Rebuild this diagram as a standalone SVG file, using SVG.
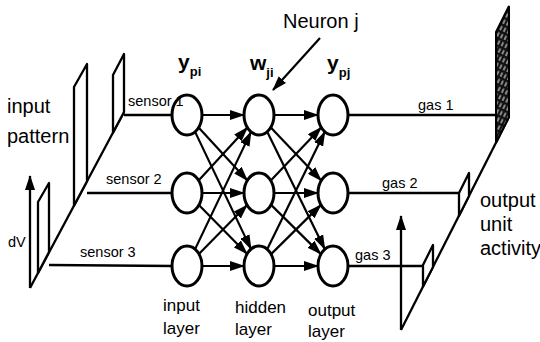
<svg xmlns="http://www.w3.org/2000/svg" width="540" height="342" viewBox="0 0 540 342">
<style>
text{font-family:"Liberation Sans",Arial,sans-serif;fill:#000}
.lbl{font-size:14.5px}
.big{font-size:20px}
.lay{font-size:17px}
.sym{font-size:21px;font-weight:bold}
.sub{font-size:13px;font-weight:bold}
.node{fill:#fff;stroke:#000;stroke-width:3}
.edge{stroke:#000;stroke-width:2.2;fill:none;marker-end:url(#ah)}
.ln{stroke:#000;stroke-width:2.3;fill:none}
.panel{stroke:#000;stroke-width:2.3;fill:#fff;stroke-linejoin:round}
</style>
<defs>
<marker id="ah" markerUnits="userSpaceOnUse" markerWidth="15" markerHeight="10" viewBox="0 0 15 10" refX="14" refY="5" orient="auto">
<path d="M0,0 L15,5 L0,10 z" fill="#000"/>
</marker>
<pattern id="hatch" patternUnits="userSpaceOnUse" width="4" height="7" patternTransform="rotate(25)">
<rect width="4" height="7" fill="#111"/>
<line x1="2" y1="0.5" x2="2" y2="5" stroke="#fff" stroke-width="1"/>
</pattern>
</defs>
<rect width="540" height="342" fill="#fff"/>

<!-- input pattern (left) -->
<g id="input-pattern">
<line class="ln" x1="30" y1="288" x2="124" y2="112"/>
<polygon class="panel" points="38,273 38,202 49,183 49,252"/>
<polygon class="panel" points="74,205.6 74,87 87,64 87,181.3"/>
<polygon class="panel" points="113,132.6 113,75 124,54 124,112"/>
<line class="ln" x1="30" y1="288" x2="30" y2="176" marker-end="url(#ah)"/>
<text class="big" x="7" y="113">input</text>
<text class="big" x="7" y="143">pattern</text>
<text class="lbl" x="8" y="247">dV</text>
</g>

<!-- output unit activity (right) -->
<g id="output-activity">
<line class="ln" x1="401" y1="330" x2="509" y2="117"/>
<polygon class="panel" points="423,286.6 423,265 433,245 433,267"/>
<polygon class="panel" points="459,215.7 459,193 469,173 469,196"/>
<polygon points="496,143 496,32 509,6 509,117" fill="url(#hatch)" stroke="#000" stroke-width="2"/>
<line class="ln" x1="401" y1="330" x2="401" y2="216" marker-end="url(#ah)"/>
<text class="big" x="480" y="207">output</text>
<text class="big" x="480" y="231">unit</text>
<text class="big" x="480" y="255">activity</text>
</g>

<!-- connectors -->
<g id="connectors">
<line class="ln" x1="124" y1="115" x2="173" y2="115"/>
<line class="ln" x1="87" y1="193" x2="173" y2="193"/>
<line class="ln" x1="49" y1="265" x2="173" y2="266"/>
<line class="ln" x1="348" y1="115" x2="496" y2="115"/>
<line class="ln" x1="348" y1="193" x2="459" y2="193"/>
<line class="ln" x1="348" y1="266" x2="423" y2="266"/>

<line class="edge" x1="202" y1="115" x2="244" y2="115"/>
<line class="edge" x1="198.6" y1="127.6" x2="247.4" y2="180.4"/>
<line class="edge" x1="195.1" y1="131.9" x2="251" y2="249.1"/>
<line class="edge" x1="198.6" y1="180.4" x2="247.4" y2="127.6"/>
<line class="edge" x1="202" y1="193" x2="244" y2="193"/>
<line class="edge" x1="198.9" y1="205.1" x2="247.1" y2="253.9"/>
<line class="edge" x1="195.1" y1="249.1" x2="251" y2="131.9"/>
<line class="edge" x1="198.9" y1="253.9" x2="247.1" y2="205.1"/>
<line class="edge" x1="202" y1="266" x2="244" y2="266"/>

<line class="edge" x1="274" y1="115" x2="318" y2="115"/>
<line class="edge" x1="270.8" y1="127.4" x2="321.2" y2="180.6"/>
<line class="edge" x1="267.2" y1="131.8" x2="324.8" y2="249.2"/>
<line class="edge" x1="270.8" y1="180.6" x2="321.2" y2="127.4"/>
<line class="edge" x1="274" y1="193" x2="318" y2="193"/>
<line class="edge" x1="271.1" y1="204.9" x2="320.9" y2="254.1"/>
<line class="edge" x1="267.2" y1="249.2" x2="324.8" y2="131.8"/>
<line class="edge" x1="271.1" y1="254.1" x2="320.9" y2="204.9"/>
<line class="edge" x1="274" y1="266" x2="318" y2="266"/>

<line class="edge" x1="320" y1="38" x2="273" y2="90"/>
</g>

<!-- nodes -->
<g id="input1"><ellipse class="node" cx="187" cy="115" rx="15" ry="20"/></g>
<g id="input2"><ellipse class="node" cx="187" cy="193" rx="15" ry="20"/></g>
<g id="input3"><ellipse class="node" cx="187" cy="266" rx="15" ry="20"/></g>
<g id="hidden1"><ellipse class="node" cx="259" cy="115" rx="15" ry="20"/></g>
<g id="hidden2"><ellipse class="node" cx="259" cy="193" rx="15" ry="20"/></g>
<g id="hidden3"><ellipse class="node" cx="259" cy="266" rx="15" ry="20"/></g>
<g id="output1"><ellipse class="node" cx="333" cy="115" rx="15" ry="20"/></g>
<g id="output2"><ellipse class="node" cx="333" cy="193" rx="15" ry="20"/></g>
<g id="output3"><ellipse class="node" cx="333" cy="266" rx="15" ry="20"/></g>

<!-- labels -->
<g id="labels">
<text class="lbl" x="128" y="106">sensor 1</text>
<text class="lbl" x="106" y="184">sensor 2</text>
<text class="lbl" x="80" y="257">sensor 3</text>
<text class="lbl" x="418" y="110">gas 1</text>
<text class="lbl" x="382" y="188">gas 2</text>
<text class="lbl" x="355" y="260">gas 3</text>
<text class="sym" x="178" y="69">y<tspan class="sub" dy="7">pi</tspan></text>
<text class="sym" x="250" y="70">w<tspan class="sub" dy="7">ji</tspan></text>
<text class="sym" x="327" y="70">y<tspan class="sub" dy="7">pj</tspan></text>
<text class="big" x="283" y="28">Neuron j</text>
<text class="lay" x="163" y="311">input</text>
<text class="lay" x="163" y="334">layer</text>
<text class="lay" x="235" y="313">hidden</text>
<text class="lay" x="235" y="335">layer</text>
<text class="lay" x="308" y="316">output</text>
<text class="lay" x="308" y="337">layer</text>
</g>
</svg>
